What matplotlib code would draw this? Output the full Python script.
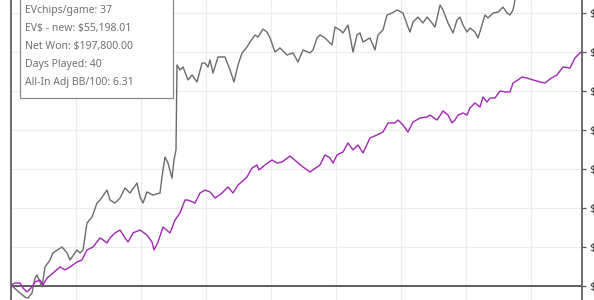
import matplotlib
matplotlib.use('Agg')
import matplotlib.pyplot as plt
from matplotlib.ticker import MultipleLocator, FuncFormatter
from matplotlib.patches import Rectangle

# hands played / cumulative winnings ($)
net_hands = [0, 90, 140, 170, 210, 240, 260, 310, 340, 390,
             420, 510, 560, 590, 660, 690, 720, 760, 810, 860,
             890, 960, 990, 1040, 1090, 1140, 1190, 1260, 1290, 1320,
             1360, 1420, 1490, 1510, 1540, 1570, 1610, 1630, 1650, 1660,
             1690, 1720, 1770, 1810, 1860, 1910, 1940, 1970, 1990, 2020,
             2070, 2140, 2190, 2230, 2270, 2310, 2360, 2390, 2440, 2470,
             2520, 2560, 2590, 2640, 2690, 2760, 2820, 2870, 2920, 2990,
             3020, 3060, 3090, 3140, 3210, 3240, 3290, 3320, 3370, 3420,
             3460, 3490, 3520, 3590, 3640, 3670, 3720, 3760, 3810, 3860,
             3920, 3970, 3990, 4020, 4070, 4120, 4160, 4210, 4240, 4290,
             4320, 4370, 4420, 4460, 4490, 4520, 4560, 4590, 4640, 4670,
             4710, 4740, 4770, 4820, 4870, 4920, 4960, 4990, 5020, 5050,
             5140, 5290, 5490, 5710]
net_won = [600, -4500, -7100, -7700, -4500, 5100, 7100, -600, 12200, 16700,
           21200, 25000, 21200, 16700, 23100, 21200, 23100, 40400, 44200, 53200,
           55100, 61500, 55100, 53200, 56400, 62800, 59600, 66000, 57100, 53200,
           60300, 58300, 59600, 69900, 82700, 78800, 69200, 80800, 87200, 141700,
           138500, 140400, 132100, 135300, 130800, 142900, 142900, 140400, 144900, 136500,
           146800, 146800, 138500, 130800, 141700, 149400, 153200, 156400, 160900, 159600,
           164700, 162800, 159000, 150000, 152600, 148100, 149400, 143600, 151300, 149400,
           151300, 159000, 160900, 159000, 154500, 166000, 164100, 162200, 167300, 150000,
           160900, 162200, 156400, 159000, 151300, 160900, 164100, 173700, 175000, 176900,
           175000, 166000, 162800, 169200, 172400, 168600, 172400, 168600, 166000, 180100,
           176900, 168600, 162200, 170500, 172400, 167300, 162800, 165400, 162800, 159000,
           167300, 173700, 171800, 175000, 175600, 178800, 175000, 173700, 176900, 186500,
           192900, 189700, 196200, 197800]

ev_hands = [0, 40, 90, 120, 160, 210, 240, 290, 320, 360,
            420, 490, 540, 590, 660, 710, 760, 820, 890, 920,
            960, 990, 1040, 1090, 1140, 1170, 1220, 1290, 1360, 1410,
            1430, 1470, 1520, 1590, 1640, 1690, 1740, 1770, 1840, 1890,
            1940, 1990, 2040, 2110, 2170, 2220, 2270, 2360, 2410, 2460,
            2480, 2540, 2610, 2660, 2710, 2790, 2860, 2920, 2990, 3020,
            3090, 3140, 3190, 3220, 3260, 3320, 3370, 3420, 3470, 3520,
            3590, 3660, 3720, 3770, 3840, 3870, 3920, 3970, 4020, 4090,
            4160, 4190, 4260, 4320, 4370, 4410, 4440, 4470, 4520, 4560,
            4590, 4640, 4690, 4720, 4760, 4790, 4840, 4890, 4940, 4990,
            5020, 5070, 5110, 5160, 5220, 5290, 5340, 5390, 5460, 5520,
            5590, 5640, 5690, 5710]
ev_won = [600, 1900, 1900, -1300, -3800, -600, 2600, 3800, 600, 5100,
          8300, 12200, 10300, 12200, 15400, 16700, 23100, 25000, 30800, 29500,
          27600, 30800, 34000, 35900, 30800, 28200, 34000, 35900, 32700, 28200,
          23100, 28200, 37800, 34000, 42300, 46800, 55100, 55100, 53200, 59600,
          61500, 60300, 56400, 59600, 63500, 59600, 64700, 69900, 75600, 77600,
          74400, 77600, 80800, 78800, 79500, 83300, 79500, 76300, 73100, 74400,
          77600, 84000, 82100, 78800, 84000, 85900, 91700, 87200, 90400, 85300,
          94900, 96800, 98700, 104500, 104500, 106400, 103200, 98700, 105100, 107700,
          108300, 109600, 106400, 112200, 109600, 104500, 106400, 109600, 110900, 109600,
          114100, 117300, 114700, 121200, 117900, 120500, 120500, 125000, 124400, 124400,
          130100, 132100, 134000, 133300, 132100, 130800, 130100, 132700, 135300, 140400,
          139700, 146200, 149400, 150000]

tooltip_lines = ['EVchips/game: 37',
                 'EV$ - new: $55,198.01',
                 'Net Won: $197,800.00',
                 'Days Played: 40',
                 'All-In Adj BB/100: 6.31']

plt.rcParams['font.family'] = ['Noto Sans', 'DejaVu Sans']

W, H = 594, 300
fig = plt.figure(figsize=(W / 100, H / 100), dpi=100)
fig.patch.set_facecolor('white')

# plot area runs past the top and bottom of the picture
ax = fig.add_axes([11 / W, -10 / H, 571 / W, 350 / H])
ax.set_xlim(0, 5710)
ax.set_ylim(-15385, 208974)

ax.plot(net_hands, net_won, color='#6b6b6b', lw=1.0, zorder=3)
ax.plot(ev_hands, ev_won, color='#a226b5', lw=1.0, zorder=3)
ax.axhline(0, color='#444444', lw=1.2, zorder=2)

ax.xaxis.set_major_locator(MultipleLocator(650))
ax.yaxis.set_major_locator(MultipleLocator(25000))
ax.grid(True, color='#ececec', lw=0.8, zorder=0)
ax.set_axisbelow(True)

ax.yaxis.tick_right()
ax.yaxis.set_major_formatter(FuncFormatter(lambda v, p: '${:,.0f}'.format(v)))
ax.tick_params(axis='y', length=3, width=0.9, color='#555555', pad=2,
               labelsize=8, labelcolor='#333333')
ax.tick_params(axis='x', length=0, labelbottom=False)

for s in ['top', 'bottom']:
    ax.spines[s].set_visible(False)
for s in ['left', 'right']:
    ax.spines[s].set_color('#555555')
    ax.spines[s].set_linewidth(1.2)

# tooltip box (top is cut off)
box = Rectangle((20 / W, (H - 98) / H), 153 / W, 0.5, transform=fig.transFigure,
                facecolor='white', edgecolor='#8a8a8a', lw=0.9, zorder=5)
fig.patches.append(box)
for i, t in enumerate(tooltip_lines):
    fig.text(25 / W, (H - 10 - i * 18.2) / H, t, fontsize=7.5, color='#707070',
             va='center', ha='left', zorder=6, parse_math=False)

fig.savefig('out.png', dpi=100)
